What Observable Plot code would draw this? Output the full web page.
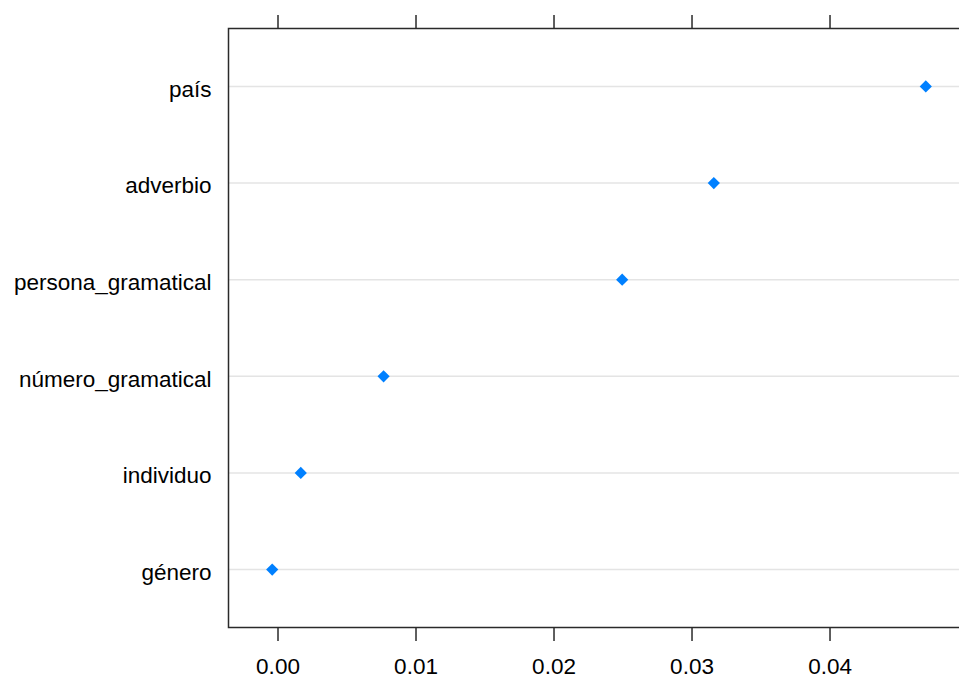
<!DOCTYPE html>
<html>
<head>
<meta charset="utf-8">
<script src="https://cdn.jsdelivr.net/npm/d3@7"></script>
<script src="https://cdn.jsdelivr.net/npm/@observablehq/plot@0.6"></script>
<style>
  html, body { margin: 0; padding: 0; background: white; overflow: hidden; }
  #chart svg { display: block; }
</style>
</head>
<body>
<div id="chart"></div>
<script>
const categories = ["país", "adverbio", "persona_gramatical", "número_gramatical", "individuo", "género"];
const values = [0.04694, 0.03158, 0.02494, 0.00765, 0.00165, -0.00042];
const xTicks = [0.00, 0.01, 0.02, 0.03, 0.04];

const data = categories.map((c, i) => ({category: c, value: values[i]}));

const chart = Plot.plot({
  width: 962,
  height: 680,
  marginLeft: 228,
  marginRight: 0,
  marginTop: 28,
  marginBottom: 53,
  style: {fontFamily: "'Liberation Sans', Arial, sans-serif", fontSize: "22px", color: "#000", background: "white", maxWidth: "none", overflow: "hidden"},
  x: {domain: [-0.003587, 0.0496]},
  y: {domain: categories, type: "point", padding: 0.6, round: false},
  marks: [
    Plot.ruleY(categories, {y: d => d, stroke: "#e4e4e4", strokeWidth: 1.5}),
    Plot.frame({stroke: "#2a2a2a", strokeWidth: 1.5}),
    Plot.axisX({anchor: "bottom", ticks: xTicks, tickSize: 14, tickPadding: 17, tickFormat: d3.format(".2f"), label: null, stroke: "#2a2a2a", strokeWidth: 1.5, fill: "#000", fontSize: 22.5, textStroke: "none"}),
    Plot.axisX({anchor: "top", ticks: xTicks, tickSize: 14, text: null, label: null, stroke: "#2a2a2a", strokeWidth: 1.5}),
    Plot.axisY({anchor: "left", tickSize: 0, tickPadding: 17, label: null, fill: "#000", fontSize: 22.5, dy: 3}),
    Plot.dot(data, {x: "value", y: "category", symbol: "diamond2", r: 5.5, fill: "#0080ff", stroke: "none"})
  ]
});
document.getElementById("chart").appendChild(chart);
</script>
</body>
</html>
